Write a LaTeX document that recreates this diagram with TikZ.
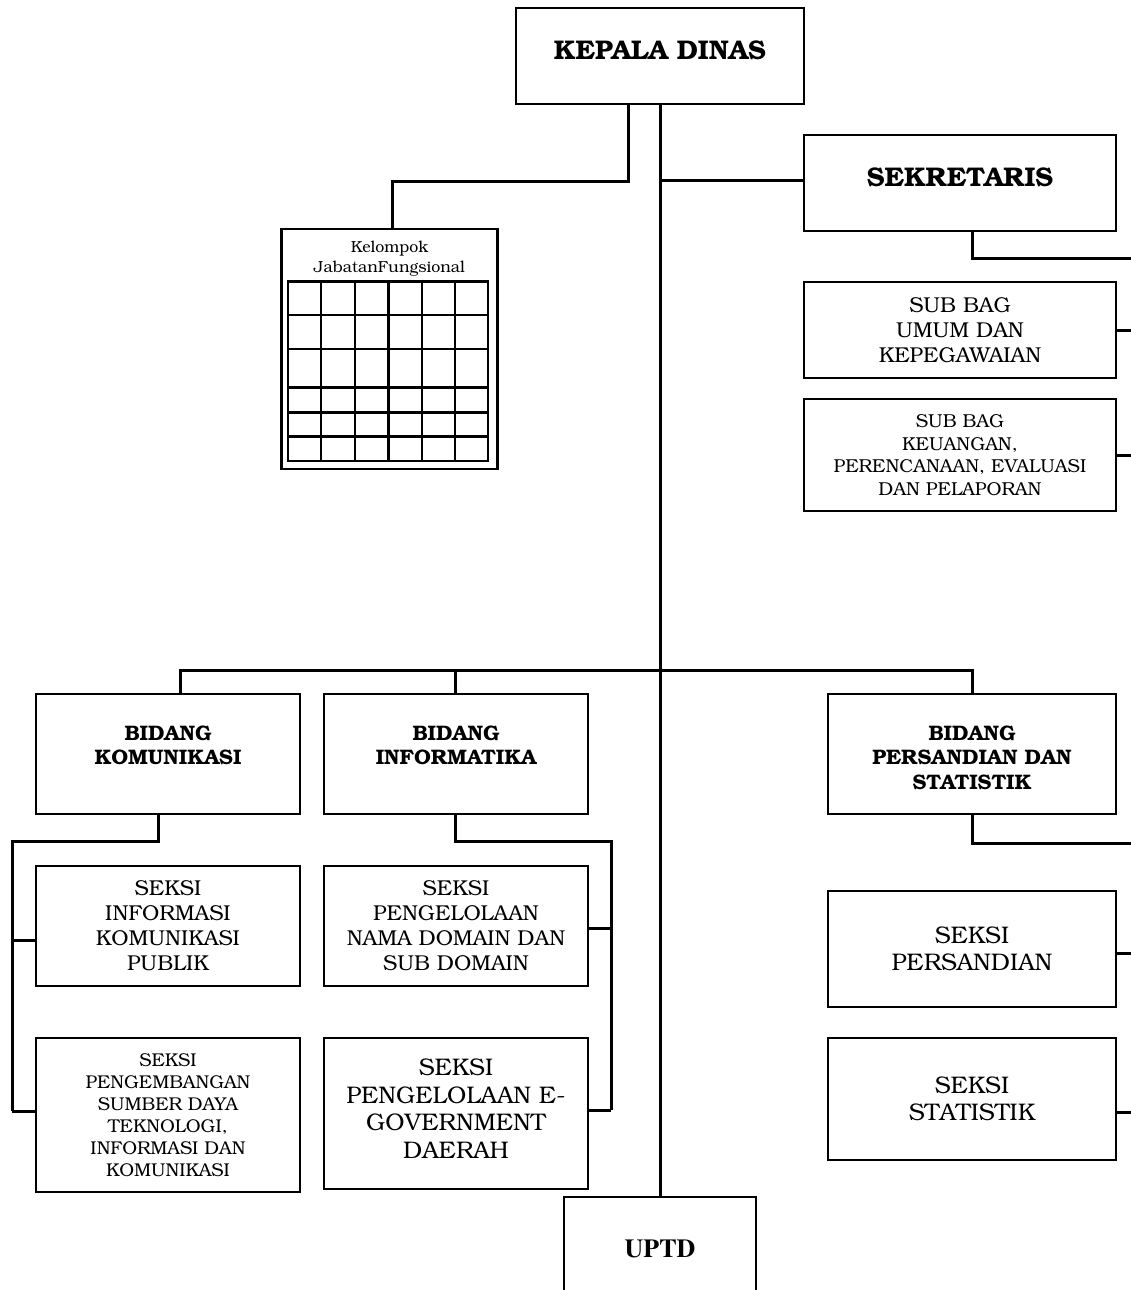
\documentclass[tikz,border=0pt]{standalone}
\usepackage[T1]{fontenc}
\usepackage{bookman}
\begin{document}
\begin{tikzpicture}[x=1pt,y=-1pt,
  box/.style={draw, line width=2.2pt, inner sep=0pt, align=center},
  link/.style={line width=3pt},
  gridline/.style={line width=2.4pt},
  head/.style={font=\fontsize{27}{32}\selectfont\bfseries, align=center},
  bid/.style={font=\fontsize{21}{24.5}\selectfont\bfseries, align=center},
  txt/.style={font=\fontsize{21.5}{25}\selectfont},
  small/.style={font=\fontsize{18.7}{22.5}\selectfont},
  large/.style={font=\fontsize{24}{27.5}\selectfont}]
\useasboundingbox (0,0) rectangle (1131,1290);
\clip (0,0) rectangle (1131,1290);
\fill[white] (0,0) rectangle (1131,1290);

% free end at the right edge
\coordinate (edge) at (1131,0);

% top level
\node[box, minimum width=288pt, minimum height=96pt] (kepala) at (660,56) {};
\node[head] (kepala-t) at ([yshift=6pt]kepala.center) {KEPALA DINAS};

\node[box, minimum width=312pt, minimum height=96pt] (sek) at (960,183) {};
\node[head] (sek-t) at ([yshift=6pt]sek.center) {SEKRETARIS};

\node[box, txt, minimum width=312pt, minimum height=96pt] (sb1) at (960,330)
  {SUB BAG\\UMUM DAN\\KEPEGAWAIAN};
\node[box, small, minimum width=312pt, minimum height=112pt] (sb2) at (960,455)
  {SUB BAG\\KEUANGAN,\\PERENCANAAN, EVALUASI\\DAN PELAPORAN};

% functional group with its grid
\node[box, minimum width=216pt, minimum height=240pt] (kel) at (389.5,349) {};
\node[font=\fontsize{16}{20}\selectfont, align=center] (kel-t) at (389.5,259)
  {Kelompok\\JabatanFungsional};
\foreach \gx in {288,321,355,388.5,422,455,488}
  \draw[gridline] (\gx,281.5) -- (\gx,461);
\foreach \gy in {281.5,315,349,387.5,412.5,436.5,461}
  \draw[gridline] (287,\gy) -- (489,\gy);

% divisions
\node[box, minimum width=264pt, minimum height=120pt] (bk) at (168,754) {};
\node[bid] (bk-t) at (168,745.5) {BIDANG\\KOMUNIKASI};
\node[box, minimum width=264pt, minimum height=120pt] (bi) at (456,754) {};
\node[bid] (bi-t) at (456,745.5) {BIDANG\\INFORMATIKA};
\node[box, minimum width=288pt, minimum height=120pt] (bp) at (972,754) {};
\node[bid] (bp-t) at (972,757.5) {BIDANG\\PERSANDIAN DAN\\STATISTIK};

% sections
\node[box, txt, minimum width=264pt, minimum height=120pt] (s11) at (168,926)
  {SEKSI\\INFORMASI\\KOMUNIKASI\\PUBLIK};
\node[box, font=\fontsize{18.5}{22}\selectfont, minimum width=264pt, minimum height=154pt] (s12) at (168,1115)
  {SEKSI\\PENGEMBANGAN\\SUMBER DAYA\\TEKNOLOGI,\\INFORMASI DAN\\KOMUNIKASI};
\node[box, txt, minimum width=264pt, minimum height=120pt] (s21) at (456,926)
  {SEKSI\\PENGELOLAAN\\NAMA DOMAIN DAN\\SUB DOMAIN};
\node[box, minimum width=264pt, minimum height=151pt] (s22) at (456,1113.5) {};
\node[large, align=center] (s22-t) at (456,1108.5)
  {SEKSI\\PENGELOLAAN E-\\GOVERNMENT\\DAERAH};
\node[box, large, minimum width=288pt, minimum height=116pt] (s31) at (972,949)
  {SEKSI\\PERSANDIAN};
\node[box, large, minimum width=288pt, minimum height=122pt] (s32) at (972,1099)
  {SEKSI\\STATISTIK};

% technical unit
\node[box, minimum width=192pt, minimum height=110pt, font=\fontfamily{ptm}\fontsize{26}{30}\selectfont\bfseries] (uptd) at (660,1252)
  {\raisebox{6pt}{UPTD}};

% connectors
\draw[link] (kepala.south) -- (uptd.north);
\draw[link] ([xshift=-32pt]kepala.south) -- ++(0,76) -| ([xshift=3pt]kel.north);
\draw[link] ([yshift=3pt]sek.west) -- ([yshift=3pt]sek.west -| kepala.south);
\draw[link] ([xshift=12pt]sek.south) |- (edge |- 0,258);
\draw[link] (sb1.east) -- (sb1.east -| edge);
\draw[link] (sb2.east) -- (sb2.east -| edge);

\draw[link] ([xshift=12pt]bk.north) |- (bp.north |- 0,670) -- (bp.north);
\draw[link] ([xshift=-1pt]bi.north) -- ([xshift=-1pt]bi.north |- 0,670);

\coordinate (lrail) at (12,841);
\draw[link] ([xshift=-10pt]bk.south) |- (lrail) -- (12,1111);
\draw[link] ([yshift=-14pt]s11.west) -- ([yshift=-14pt]s11.west -| lrail);
\draw[link] ([yshift=4pt]s12.west) -- ([yshift=4pt]s12.west -| lrail);

\coordinate (mrail) at (611,841);
\draw[link] ([xshift=-1pt]bi.south) |- (mrail) -- (611,1110);
\draw[link] ([yshift=-2pt]s21.east) -- ([yshift=-2pt]s21.east -| mrail);
\draw[link] ([yshift=3.5pt]s22.east) -- ([yshift=3.5pt]s22.east -| mrail);

\draw[link] (bp.south) |- (edge |- 0,843);
\draw[link] ([yshift=-4pt]s31.east) -- ([yshift=-4pt]s31.east -| edge);
\draw[link] ([yshift=-13pt]s32.east) -- ([yshift=-13pt]s32.east -| edge);
\end{tikzpicture}
\end{document}
